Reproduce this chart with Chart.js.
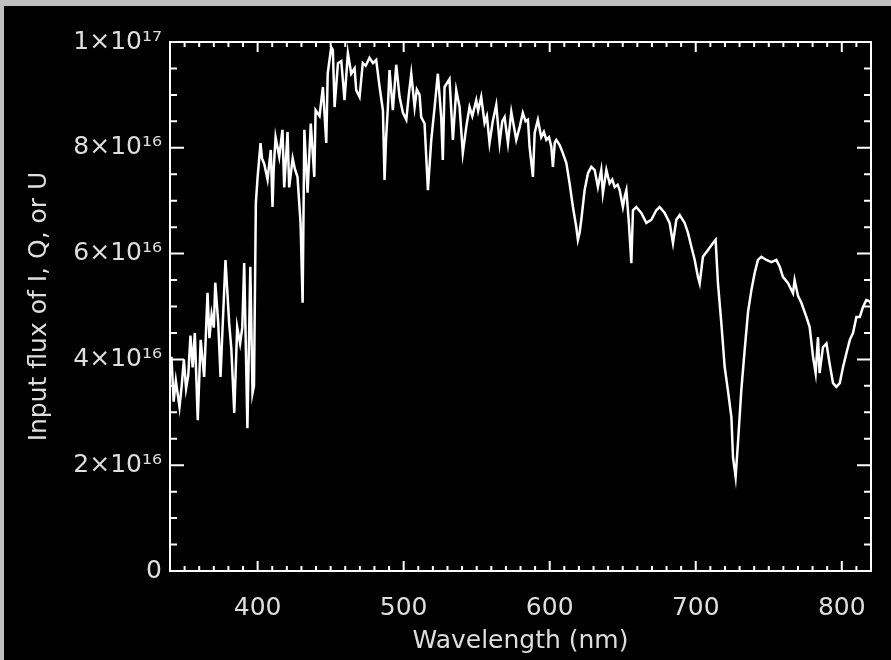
<!DOCTYPE html>
<html lang="en">
<head>
  <meta charset="UTF-8" />
  <title>Input flux spectrum</title>
  <script src="https://cdn.jsdelivr.net/npm/chart.js@4.4.1/dist/chart.umd.min.js"></script>
  <style>
    body {
      margin: 0;
      padding: 0;
      background: #c0c0c0;
      width: 891px;
      height: 660px;
      overflow: hidden;
    }
    #frame {
      position: absolute;
      left: 4px;
      top: 6px;
      width: 887px;
      height: 654px;
      background: #000;
    }
  </style>
</head>
<body>
  <div id="frame">
    <canvas id="spectrum" width="887" height="654"></canvas>
  </div>

  <script>
    // wavelength in nm, flux in units of 1e16
    const wavelength = [
      340, 341, 342.5, 344, 345.5, 346.5, 348, 349.5, 351, 352.5,
      354, 355.5, 357, 359, 361, 363.4, 365.7, 367, 368.5, 370,
      371, 373, 374.6, 376, 378, 380.5, 382, 384, 386, 388,
      389.5, 390.8, 393, 395, 396.5, 397.5, 398.8, 400, 402, 403,
      404.5, 406.8, 409, 410.2, 411, 412.3, 414.8, 417, 418.2, 420.5,
      421.6, 424, 425.5, 427.3, 429.4, 430.8, 432, 434.2, 436.4, 438.8,
      439.7, 442.4, 444.7, 447, 448, 450.4, 451.5, 452.7, 455, 457.3,
      459.5, 461.8, 464.1, 466.4, 467.5, 469.8, 472, 474, 476.6, 479,
      481.2, 483.5, 485.8, 486.9, 488, 489.2, 490.3, 492.6, 494.9, 497.2,
      499.5, 501.8, 503.5, 505.2, 507.5, 509, 510.9, 512, 514.3, 516.6,
      518.9, 521.2, 523.4, 525.7, 526.8, 528, 531.4, 533.7, 536, 538.3,
      540.5, 542.9, 545.1, 547, 549.7, 551, 553.1, 555.4, 557, 558.8,
      561, 563.4, 565.7, 567.5, 569.1, 571.4, 573.7, 575.5, 577.1, 579.5,
      581.6, 583.5, 585.1, 586.2, 588.5, 589.7, 591.9, 594.2, 596, 597.7,
      599.5, 601.1, 602.2, 603.5, 604.5, 606.8, 609, 611.4, 613.6, 615.9,
      618.2, 619.3, 620.5, 621.6, 623.9, 626.2, 628.5, 630.8, 633, 635.3,
      636.4, 638.8, 641, 642.8, 644.5, 646.5, 647.9, 650.1, 651.5, 652.5,
      654.2, 655.9, 657, 659.3, 662.7, 666.2, 669.6, 673, 675.3, 678.7,
      682.1, 684.4, 686.7, 689, 692.4, 694.7, 697, 699.3, 701.5, 702.7,
      704.9, 708.4, 711.8, 713.6, 715.2, 717.5, 719.8, 722, 724.4, 725.5,
      727.3, 728.9, 731.2, 733.5, 735.8, 738.1, 740.3, 742.6, 744.9, 748.4,
      751.8, 755.2, 757.5, 759.7, 763.2, 766.6, 767.7, 770, 772.3, 775.8,
      778, 780.3, 782.1, 783.7, 784.8, 787.1, 789.5, 791.6, 794, 796.3,
      798.6, 800.9, 803.2, 805.5, 807.7, 810, 812.3, 814.5, 816.8, 819,
      820
    ];
    const flux = [
      3.7, 4.05, 3.2, 3.6, 3.3, 3.1, 3.5, 4.0, 3.45, 3.7,
      4.45, 3.85, 4.5, 2.85, 4.37, 3.67, 5.26, 4.4, 4.85, 4.6,
      5.45, 4.7, 3.67, 4.6, 5.88, 4.69, 4.2, 2.99, 4.61, 4.3,
      4.6, 5.82, 2.7, 5.75, 3.36, 3.5, 6.96, 7.45, 8.09, 7.8,
      7.7, 7.4, 7.96, 6.88, 7.6, 8.2, 7.83, 8.34, 7.25, 8.3,
      7.25, 7.8, 7.6, 7.45, 6.58, 5.07, 8.34, 7.15, 8.46, 7.45,
      8.71, 8.6, 9.15, 8.09, 9.41, 9.9, 9.85, 8.77, 9.6, 9.64,
      8.9, 9.79, 9.4, 9.5, 9.09, 8.96, 9.6, 9.55, 9.7, 9.6,
      9.66, 9.15, 8.71, 7.39, 8.2, 8.77, 9.47, 8.71, 9.57, 8.96,
      8.66, 8.53, 9.0, 9.4, 8.77, 9.1, 9.0, 8.58, 8.46, 7.2,
      8.15, 8.77, 9.4, 8.58, 7.77, 9.15, 9.3, 8.15, 9.09, 8.77,
      7.9, 8.4, 8.77, 8.6, 8.9, 8.7, 8.96, 8.47, 8.6, 8.09,
      8.5, 8.81, 8.09, 8.5, 8.58, 8.09, 8.68, 8.4, 8.15, 8.4,
      8.66, 8.5, 8.53, 8.02, 7.45, 8.28, 8.53, 8.2, 8.3, 8.15,
      8.2, 8.02, 7.64, 8.1, 8.15, 8.05, 7.9, 7.71, 7.33, 6.88,
      6.5, 6.26, 6.4, 6.63, 7.2, 7.52, 7.64, 7.58, 7.26, 7.58,
      7.14, 7.58, 7.33, 7.4, 7.26, 7.3, 7.2, 6.88, 7.1, 7.2,
      6.58, 5.82, 6.82, 6.88, 6.77, 6.58, 6.64, 6.82, 6.88, 6.77,
      6.58, 6.2, 6.64, 6.73, 6.58, 6.39, 6.13, 5.88, 5.56, 5.44,
      5.94, 6.07, 6.2, 6.26, 5.44, 4.69, 3.86, 3.42, 2.91, 2.15,
      1.78, 2.42, 3.42, 4.18, 4.9, 5.31, 5.63, 5.88, 5.94, 5.88,
      5.84, 5.88, 5.75, 5.56, 5.44, 5.25, 5.5, 5.2, 5.07, 4.8,
      4.61, 4.05, 3.74, 4.42, 3.74, 4.23, 4.3, 3.93, 3.55, 3.48,
      3.55, 3.86, 4.12, 4.37, 4.5, 4.8, 4.8, 4.99, 5.12, 5.1,
      5.05
    ];

    const xTicks = [400, 500, 600, 700, 800];
    const xTickLabels = ['400', '500', '600', '700', '800'];
    const yTicks = [0, 2, 4, 6, 8, 10];
    const yTickLabels = ['0', '2×10¹⁶', '4×10¹⁶', '6×10¹⁶', '8×10¹⁶', '1×10¹⁷'];

    const points = wavelength.map((w, i) => ({ x: w, y: flux[i] }));

    const textColor = '#dedede';
    const font = { family: 'DejaVu Sans', size: 25 };

    // IDL style box with ticks pointing inward on all four sides
    const innerTicks = {
      id: 'innerTicks',
      afterDraw(chart) {
        const { ctx, chartArea: a, scales } = chart;
        const x = scales.x, y = scales.y;
        ctx.save();
        ctx.strokeStyle = '#fff';
        ctx.lineWidth = 2;
        ctx.strokeRect(a.left, a.top, a.right - a.left, a.bottom - a.top);
        ctx.beginPath();
        for (let v = x.min; v <= x.max; v += 10) {
          const px = x.getPixelForValue(v);
          const len = xTicks.includes(v) ? 10 : 5;
          ctx.moveTo(px, a.bottom); ctx.lineTo(px, a.bottom - len);
          ctx.moveTo(px, a.top); ctx.lineTo(px, a.top + len);
        }
        for (let v = y.min; v <= y.max + 0.01; v += 0.5) {
          const py = y.getPixelForValue(v);
          const len = yTicks.includes(v) ? 14 : 7;
          ctx.moveTo(a.left, py); ctx.lineTo(a.left + len, py);
          ctx.moveTo(a.right, py); ctx.lineTo(a.right - len, py);
        }
        ctx.stroke();
        ctx.restore();
      }
    };

    new Chart(document.getElementById('spectrum'), {
      type: 'line',
      data: {
        datasets: [{
          data: points,
          borderColor: '#fff',
          borderWidth: 2.5,
          pointRadius: 0,
          tension: 0,
          fill: false
        }]
      },
      options: {
        responsive: false,
        animation: false,
        layout: { padding: { top: 36, right: 20, bottom: 0, left: 0 } },
        plugins: {
          legend: { display: false },
          tooltip: { enabled: false }
        },
        scales: {
          x: {
            type: 'linear',
            min: 340,
            max: 820,
            afterBuildTicks: s => { s.ticks = xTicks.map(v => ({ value: v })); },
            afterFit: s => { s.height = 89; },
            grid: { display: false, drawTicks: false },
            border: { display: false },
            ticks: {
              color: textColor,
              font: font,
              padding: 22,
              maxRotation: 0,
              callback: v => xTickLabels[xTicks.indexOf(v)]
            },
            title: {
              display: true,
              text: 'Wavelength (nm)',
              color: textColor,
              font: font,
              padding: { top: 0, bottom: 4 }
            }
          },
          y: {
            min: 0,
            max: 10,
            afterBuildTicks: s => { s.ticks = yTicks.map(v => ({ value: v })); },
            afterFit: s => { s.width = 166; },
            grid: { display: false, drawTicks: false },
            border: { display: false },
            ticks: {
              color: textColor,
              font: font,
              padding: 8,
              callback: v => yTickLabels[yTicks.indexOf(v)]
            },
            title: {
              display: true,
              text: 'Input flux of I, Q, or U',
              color: textColor,
              font: font,
              padding: { top: 20, bottom: 0 }
            }
          }
        }
      },
      plugins: [innerTicks]
    });
  </script>
</body>
</html>
